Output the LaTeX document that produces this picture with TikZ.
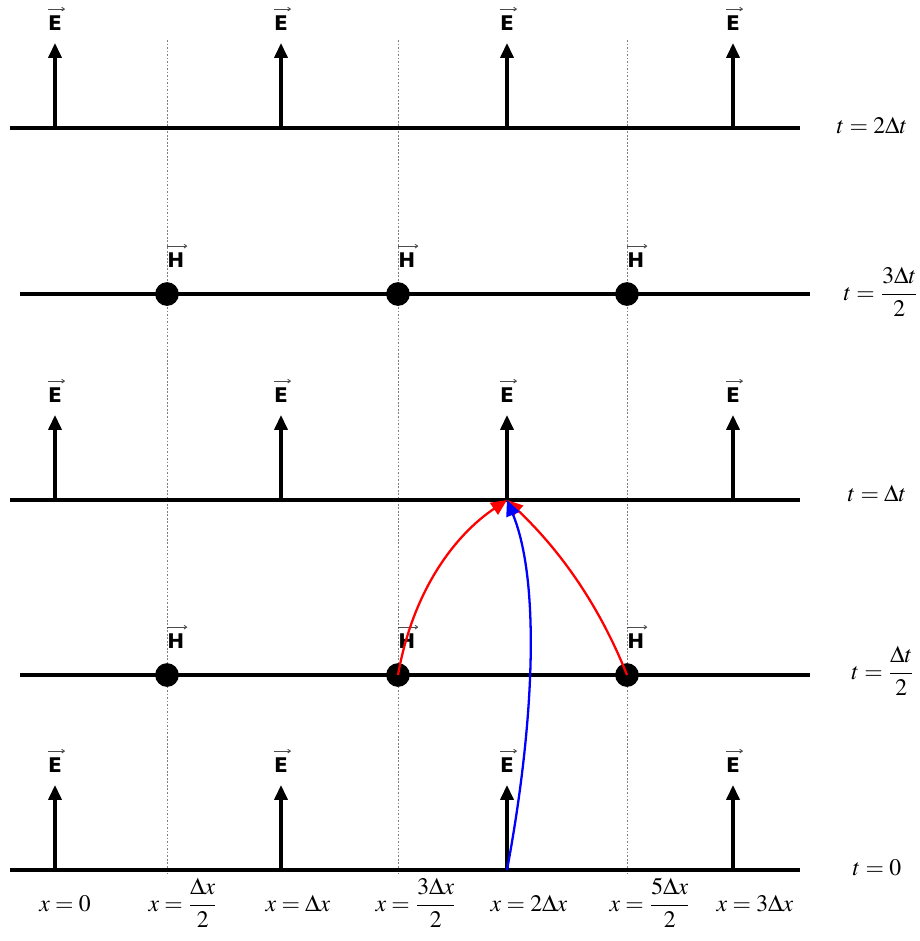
\documentclass[tikz,border=0pt]{standalone}
\usepackage{amsmath}
\usepackage{mathptmx}
\usepackage{fontspec}
\setmainfont{Liberation Serif}
\newfontfamily\vecfont{DejaVu Sans}
\usetikzlibrary{arrows.meta,positioning,calc}

\begin{document}
\begin{tikzpicture}[x=0.02cm,y=-0.02cm,
    tline/.style={line width=1.8pt},
    gridline/.style={gray,dash pattern=on 1pt off 1pt,line width=0.5pt},
    efield/.style={-{Triangle[length=8.5pt,width=7.5pt]},line width=1.8pt},
    hdot/.style={circle,fill=black,inner sep=0pt,minimum size=13.5pt},
    vlabel/.style={inner sep=0pt,font=\vecfont\bfseries\fontsize{11.5}{13}\selectfont},
    vbar/.style={-{To[length=2pt,width=2.5pt]},line width=0.5pt,black!70},
    mlabel/.style={anchor=base,inner sep=0pt,font=\fontsize{13.5}{16}\selectfont},
    update/.style={-{Triangle[length=9pt,width=8pt]},line width=1.3pt}]
  \useasboundingbox (0,0) rectangle (920,941);

  % half-step grid
  \foreach \gx in {167,398,627}
    \draw[gridline] (\gx,40) -- (\gx,873);

  % time levels
  \draw[tline] (10,128) -- (800,128);
  \draw[tline] (20,294) -- (810,294);
  \draw[tline] (10,500) -- (800,500);
  \draw[tline] (20,675) -- (810,675);
  \draw[tline] (10,870) -- (800,870);

  % E nodes at integer steps
  \foreach \lv/\ly in {a/128,c/500,e/870}
    \foreach \ex [count=\i] in {55,281,507,733} {
      \coordinate (e\lv\i) at (\ex,\ly);
      \coordinate (et\lv\i) at (\ex,\ly-85);
      \draw[efield] (e\lv\i) -- (et\lv\i);
      \node[vlabel,above=7pt of et\lv\i] (le\lv\i) {E};
      \draw[vbar] ($(le\lv\i.north west)+(0,3.5pt)$) -- ($(le\lv\i.north east)+(1.5pt,3.5pt)$);
    }

  % H nodes at half steps
  \foreach \lv/\ly in {b/294,d/675}
    \foreach \hx [count=\i] in {167,398,627} {
      \node[hdot] (h\lv\i) at (\hx,\ly) {};
      \node[vlabel,above=8pt of h\lv\i,xshift=5pt] (lh\lv\i) {H};
      \draw[vbar] ($(lh\lv\i.north west)+(0,3.5pt)$) -- ($(lh\lv\i.north east)+(1.5pt,3.5pt)$);
    }

  % update stencil
  \draw[update,red] (hd2.center) .. controls (413,590) and (455,535) .. (ec3);
  \draw[update,red] (hd3.center) .. controls (602,612) and (565,555) .. (ec3);
  \draw[update,blue] (ee3) .. controls (535,720) and (540,580) .. (ec3);

  % time labels
  \node[mlabel] (t4) at (872,133) {$t = 2\Delta t$};
  \node[mlabel] (t3) at (881,300) {$t = \dfrac{3\Delta t}{2}$};
  \node[mlabel] (t2) at (877,501) {$t = \Delta t$};
  \node[mlabel] (t1) at (883,679) {$t = \dfrac{\Delta t}{2}$};
  \node[mlabel] (t0) at (877,875) {$t = 0$};

  % space labels
  \node[mlabel] (x0) at (65,911) {$x = 0$};
  \node[mlabel] (x1) at (183,911) {$x = \dfrac{\Delta x}{2}$};
  \node[mlabel] (x2) at (298,911) {$x = \Delta x$};
  \node[mlabel] (x3) at (416,911) {$x = \dfrac{3\Delta x}{2}$};
  \node[mlabel] (x4) at (529,911) {$x = 2\Delta x$};
  \node[mlabel] (x5) at (650,911) {$x = \dfrac{5\Delta x}{2}$};
  \node[mlabel] (x6) at (755,911) {$x = 3\Delta x$};
\end{tikzpicture}
\end{document}
